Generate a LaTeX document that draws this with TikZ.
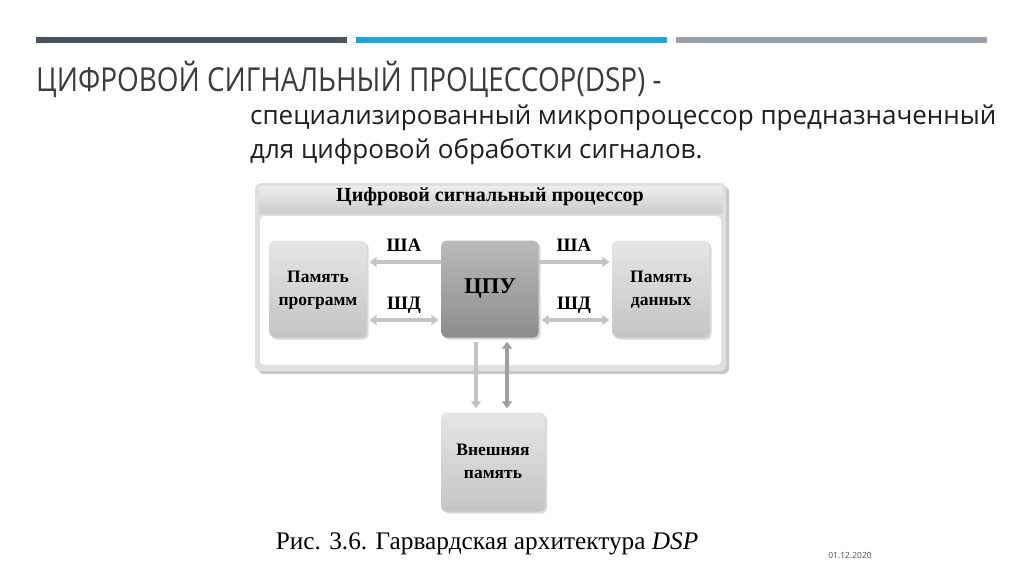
\documentclass[tikz,border=0pt]{standalone}
\usepackage{fontspec}
\setmainfont{Liberation Serif}
\newfontfamily\osans{Open Sans}
\usetikzlibrary{arrows.meta,shadows}
\definecolor{bardark}{HTML}{4A5458}
\definecolor{barblue}{HTML}{1EA6DC}
\definecolor{bargray}{HTML}{9AA0A6}
\definecolor{titlec}{HTML}{3C3C3C}
\definecolor{framec}{HTML}{DFDFDF}
\definecolor{arrowc}{HTML}{C4C4C4}
\definecolor{arrowd}{HTML}{A0A0A0}
\tikzset{
  membox/.style={rounded corners=5pt, minimum width=97pt, minimum height=97pt, align=center,
    font=\bfseries\fontsize{17.5}{23}\selectfont, top color=white!90!black, bottom color=white!77!black,
    draw=none, drop shadow={shadow xshift=2pt, shadow yshift=-2pt, opacity=0.3}},
  cpubox/.style={membox, top color=white!73!black, bottom color=white!55!black,
    font=\bfseries\fontsize{22.5}{24}\selectfont},
  lbl/.style={font=\bfseries\fontsize{19}{21}\selectfont, inner sep=0pt},
  bus/.style={line width=4.5pt, draw=arrowc, -{Triangle[length=7pt,width=10pt]}},
  dbus/.style={line width=4.5pt, draw=arrowc, {Triangle[length=7pt,width=10pt]}-{Triangle[length=7pt,width=10pt]}},
}
\begin{document}
\begin{tikzpicture}[x=1pt,y=-1pt]
\useasboundingbox (0,0) rectangle (1024,574);
\fill[white] (0,0) rectangle (1024,574);
% top bars
\fill[bardark] (36,37) rectangle (347,43);
\fill[barblue] (356,37) rectangle (667,43);
\fill[bargray] (676,37) rectangle (987,43);
% title
\node[anchor=base west, inner sep=0pt, text=titlec] (title) at (36,91)
  {\scalebox{0.845}[1]{\osans\fontsize{33}{36}\selectfont ЦИФРОВОЙ СИГНАЛЬНЫЙ ПРОЦЕССОР(DSP) -}};
\node[anchor=base west, inner sep=0pt, text=black!88, align=left] (sub1) at (250,124)
  {\osans\fontsize{26}{30}\selectfont специализированный микропроцессор предназначенный};
\node[anchor=base west, inner sep=0pt, text=black!88, align=left] (sub2) at (250,158)
  {\osans\fontsize{26}{30}\selectfont для цифровой обработки сигналов.};
% outer frame
\fill[black!22, rounded corners=6pt] (258,186) rectangle (729,374);
\fill[framec, rounded corners=6pt] (255,183) rectangle (726,371);
\shade[top color=white!93!black, bottom color=white!80!black] (259,186) rectangle (722,213);
\fill[white, rounded corners=4pt] (260,216) rectangle (721,365);
\node[font=\bfseries\fontsize{20}{22}\selectfont, inner sep=0pt] (hdr) at (490,197) {Цифровой сигнальный процессор};
% boxes
\node[membox] (pm) at (318,289) {\raisebox{8pt}{\begin{tabular}{@{}c@{}}Память\\программ\end{tabular}}};
\node[cpubox] (cpu) at (490,289) {ЦПУ};
\node[membox] (dm) at (661,289) {\raisebox{8pt}{\begin{tabular}{@{}c@{}}Память\\данных\end{tabular}}};
\node[membox, minimum width=104pt, minimum height=99pt] (ext) at (493,462) {\raisebox{6pt}{\begin{tabular}{@{}c@{}}Внешняя\\память\end{tabular}}};
% horizontal buses
\draw[bus] ([yshift=27pt]cpu.west) -- ([yshift=27pt,xshift=3pt]pm.east);
\draw[dbus] ([yshift=-31pt,xshift=-3pt]cpu.west) -- ([yshift=-31pt,xshift=3pt]pm.east);
\draw[bus] ([yshift=27pt]cpu.east) -- ([yshift=27pt,xshift=-3pt]dm.west);
\draw[dbus] ([yshift=-31pt,xshift=3pt]cpu.east) -- ([yshift=-31pt,xshift=-3pt]dm.west);
\node[lbl] (la1) at (404,245) {ША};
\node[lbl] (ld1) at (404,305) {ШД};
\node[lbl] (la2) at (574,245) {ША};
\node[lbl] (ld2) at (574,305) {ШД};
% vertical buses
\draw[bus] ([xshift=-14pt,yshift=-4pt]cpu.south) -- ([xshift=-17pt,yshift=4pt]ext.north);
\draw[dbus, draw=arrowd] ([xshift=17pt,yshift=-4pt]cpu.south) -- ([xshift=14pt,yshift=4pt]ext.north);
% caption
\node[font=\fontsize{25.3}{28}\selectfont, inner sep=0pt, anchor=base] (cap) at (487,549) {Рис. 3.6. Гарвардская архитектура \textit{DSP}};
\node[font=\osans\fontsize{8.5}{9}\selectfont, text=black!70, inner sep=0pt] (date) at (850,555) {01.12.2020};
\end{tikzpicture}
\end{document}
